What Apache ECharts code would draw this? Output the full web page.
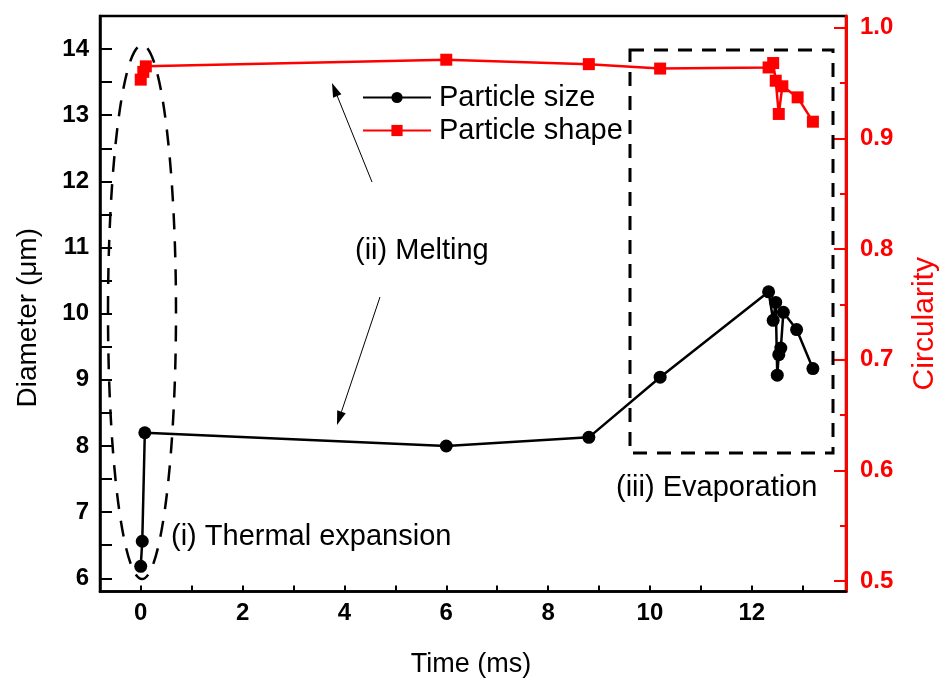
<!DOCTYPE html>
<html>
<head>
<meta charset="utf-8">
<script src="https://cdn.jsdelivr.net/npm/echarts@6/dist/echarts.min.js"></script>
<style>
  html, body { margin: 0; padding: 0; background: #fff; }
  #chart { width: 940px; height: 684px; }
</style>
</head>
<body>
<div id="chart"></div>
<script>
// particle size (diameter, um) vs time (ms)
var sizeTime = [0, 0.03, 0.08, 6, 8.8, 10.2, 12.33, 12.42, 12.47, 12.5, 12.53, 12.57, 12.62, 12.88, 13.2];
var sizeDiameter = [6.18, 6.56, 8.2, 8.0, 8.13, 9.04, 10.33, 9.9, 10.17, 9.07, 9.38, 9.48, 10.02, 9.76, 9.17];

// particle shape (circularity) vs time (ms)
var shapeTime = [0, 0.05, 0.1, 6, 8.8, 10.2, 12.33, 12.42, 12.47, 12.53, 12.6, 12.9, 13.2];
var shapeCircularity = [0.953, 0.96, 0.965, 0.971, 0.967, 0.963, 0.964, 0.968, 0.952, 0.922, 0.947, 0.937, 0.915];

// ticks
var timeTicks = [0, 1, 2, 3, 4, 5, 6, 7, 8, 9, 10, 11, 12, 13];
var timeLabels = [0, 2, 4, 6, 8, 10, 12];
var diameterTicks = [6, 6.5, 7, 7.5, 8, 8.5, 9, 9.5, 10, 10.5, 11, 11.5, 12, 12.5, 13, 13.5, 14];
var diameterLabels = [6, 7, 8, 9, 10, 11, 12, 13, 14];
var circLabels = [0.5, 0.6, 0.7, 0.8, 0.9, 1.0];
var circMinorTicks = [0.55, 0.65, 0.75, 0.85, 0.95];

var FONT = 'Liberation Sans, Arial, sans-serif';
var RED = '#ff0000';

function zip(xs, ys) {
  return xs.map(function (x, i) { return [x, ys[i]]; });
}

// thin arrow: line from (x1,y1) with a filled head at (x2,y2)
function arrow(x1, y1, x2, y2) {
  var dx = x2 - x1, dy = y2 - y1;
  var len = Math.sqrt(dx * dx + dy * dy);
  var ux = dx / len, uy = dy / len;
  var bx = x2 - ux * 14, by = y2 - uy * 14;
  var px = -uy * 4.5, py = ux * 4.5;
  return [{
    type: 'line',
    shape: { x1: x1, y1: y1, x2: bx, y2: by },
    style: { stroke: '#000', lineWidth: 1 }
  }, {
    type: 'polygon',
    shape: { points: [[x2, y2], [bx + px, by + py], [bx - px, by - py]] },
    style: { fill: '#000' }
  }];
}

var chart = echarts.init(document.getElementById('chart'));

var graphics = [
  {
    type: 'ellipse',
    shape: { cx: 142, cy: 312, rx: 34, ry: 267 },
    style: { fill: null, stroke: '#000', lineWidth: 2.5, lineDash: [16, 12] },
    z: 10
  },
  {
    type: 'rect',
    shape: { x: 630, y: 50, width: 203, height: 403 },
    style: { fill: null, stroke: '#000', lineWidth: 3, lineDash: [14, 10] },
    z: 10
  },
  {
    type: 'text', left: 171, top: 522,
    style: { text: '(i) Thermal expansion', font: '29px ' + FONT, fill: '#000' }
  },
  {
    type: 'text', left: 355, top: 236,
    style: { text: '(ii) Melting', font: '29px ' + FONT, fill: '#000' }
  },
  {
    type: 'text', left: 616, top: 473,
    style: { text: '(iii) Evaporation', font: '29px ' + FONT, fill: '#000' }
  }
].concat(arrow(372, 182, 332, 83), arrow(380, 297, 337, 425));

chart.setOption({
  backgroundColor: '#fff',
  animation: false,
  textStyle: { fontFamily: FONT },
  grid: {
    left: 100, right: 94, top: 16, bottom: 92.5,
    outerBoundsMode: 'none',
    containLabel: false,
    show: true,
    borderColor: '#000',
    borderWidth: 2.5,
    backgroundColor: 'transparent'
  },
  legend: {
    orient: 'vertical',
    left: 362,
    top: 83,
    padding: 0,
    itemGap: 4,
    itemWidth: 68,
    itemHeight: 14,
    textStyle: { fontSize: 29, color: '#000', fontFamily: FONT, padding: [0, 0, 0, 3] },
    data: ['Particle size', 'Particle shape']
  },
  xAxis: {
    type: 'value',
    min: -0.8,
    max: 13.85,
    name: 'Time (ms)',
    nameLocation: 'middle',
    nameGap: 60,
    nameTextStyle: { fontSize: 27, color: '#000', fontFamily: FONT, padding: [0, 4, 0, 0] },
    axisLine: { onZero: false, lineStyle: { color: '#000', width: 2.5 } },
    axisTick: { inside: true, length: 6, lineStyle: { color: '#000', width: 2 }, customValues: timeTicks },
    axisLabel: { fontSize: 24, fontWeight: 'bold', color: '#000', margin: 10, customValues: timeLabels },
    splitLine: { show: false }
  },
  yAxis: [{
    type: 'value',
    position: 'left',
    min: 5.8,
    max: 14.5,
    name: 'Diameter (\u03bcm)',
    nameLocation: 'middle',
    nameGap: 58,
    nameTextStyle: { fontSize: 28, color: '#000', fontFamily: FONT, padding: [0, 28, 0, 0] },
    axisLine: { show: true, onZero: false, lineStyle: { color: '#000', width: 2.5 } },
    axisTick: { inside: true, length: 12, lineStyle: { color: '#000', width: 2 }, customValues: diameterTicks },
    axisLabel: { fontSize: 24, fontWeight: 'bold', color: '#000', margin: 11, customValues: diameterLabels },
    splitLine: { show: false }
  }, {
    type: 'value',
    position: 'right',
    min: 0.4905,
    max: 1.0105,
    name: 'Circularity',
    nameLocation: 'middle',
    nameGap: 64,
    nameTextStyle: { fontSize: 30, color: RED, fontFamily: FONT, padding: [0, 40, 0, 0] },
    axisLine: { show: true, onZero: false, lineStyle: { color: RED, width: 3 } },
    axisTick: { inside: true, length: 12, lineStyle: { color: RED, width: 2 }, customValues: circLabels },
    axisLabel: {
      fontSize: 24, fontWeight: 'bold', color: RED, margin: 14, customValues: circLabels,
      formatter: function (v) { return v.toFixed(1); }
    },
    splitLine: { show: false }
  }, {
    // minor ticks of the circularity axis
    type: 'value',
    position: 'right',
    min: 0.4905,
    max: 1.0105,
    axisLine: { show: false, onZero: false },
    axisTick: { inside: true, length: 6, lineStyle: { color: RED, width: 2 }, customValues: circMinorTicks },
    axisLabel: { show: false },
    splitLine: { show: false }
  }],
  series: [{
    name: 'Particle size',
    type: 'line',
    yAxisIndex: 0,
    symbol: 'circle',
    symbolSize: 13,
    showSymbol: true,
    color: '#000',
    lineStyle: { color: '#000', width: 2.5 },
    itemStyle: { color: '#000' },
    data: zip(sizeTime, sizeDiameter),
    z: 3
  }, {
    name: 'Particle shape',
    type: 'line',
    yAxisIndex: 1,
    symbol: 'rect',
    symbolSize: 12,
    showSymbol: true,
    color: RED,
    lineStyle: { color: RED, width: 2.5 },
    itemStyle: { color: RED },
    data: zip(shapeTime, shapeCircularity),
    z: 3
  }],
  graphic: graphics
});
</script>
</body>
</html>
